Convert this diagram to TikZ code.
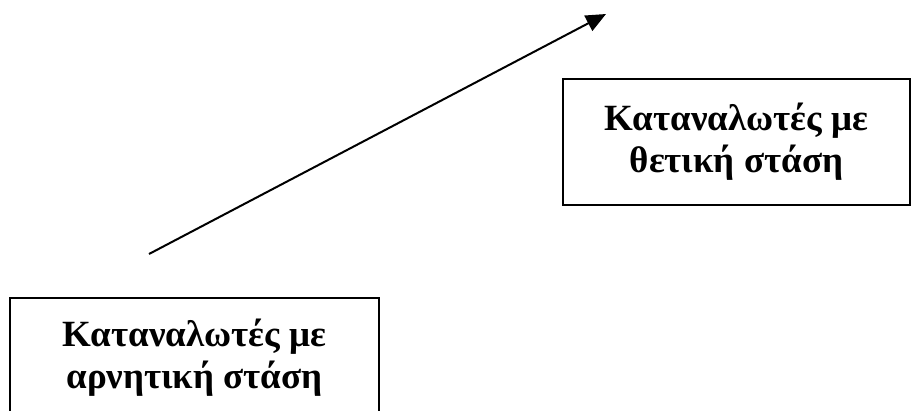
\documentclass[tikz,border=0pt]{standalone}
\usepackage{fontspec}
\setmainfont{Liberation Serif}
\usetikzlibrary{arrows.meta}
\tikzset{
  x=1pt, y=-1pt,
  attbox/.style={draw, line width=2pt, inner sep=0pt, align=center,
    font=\bfseries\fontsize{37}{42}\selectfont},
  trend/.style={line width=2pt, -{Triangle[length=20pt, width=17pt]}}
}
\begin{document}
\begin{tikzpicture}
  \useasboundingbox (0,0) rectangle (912,410);
  \clip (0,0) rectangle (912,410);
  % consumers with a positive attitude
  \node[attbox, minimum width=347pt, minimum height=126pt] (pos) at (736.5,142)
    {Καταναλωτές με\\θετική στάση};
  % consumers with a negative attitude (box runs off the lower edge)
  \node[attbox, minimum width=369pt, minimum height=120pt] (neg) at (194.5,358)
    {Καταναλωτές με\\αρνητική στάση};
  % rising trend arrow
  \coordinate (trendStart) at (149,254);
  \coordinate (trendTip) at (606,14);
  \draw[trend] (trendStart) -- (trendTip);
\end{tikzpicture}
\end{document}
